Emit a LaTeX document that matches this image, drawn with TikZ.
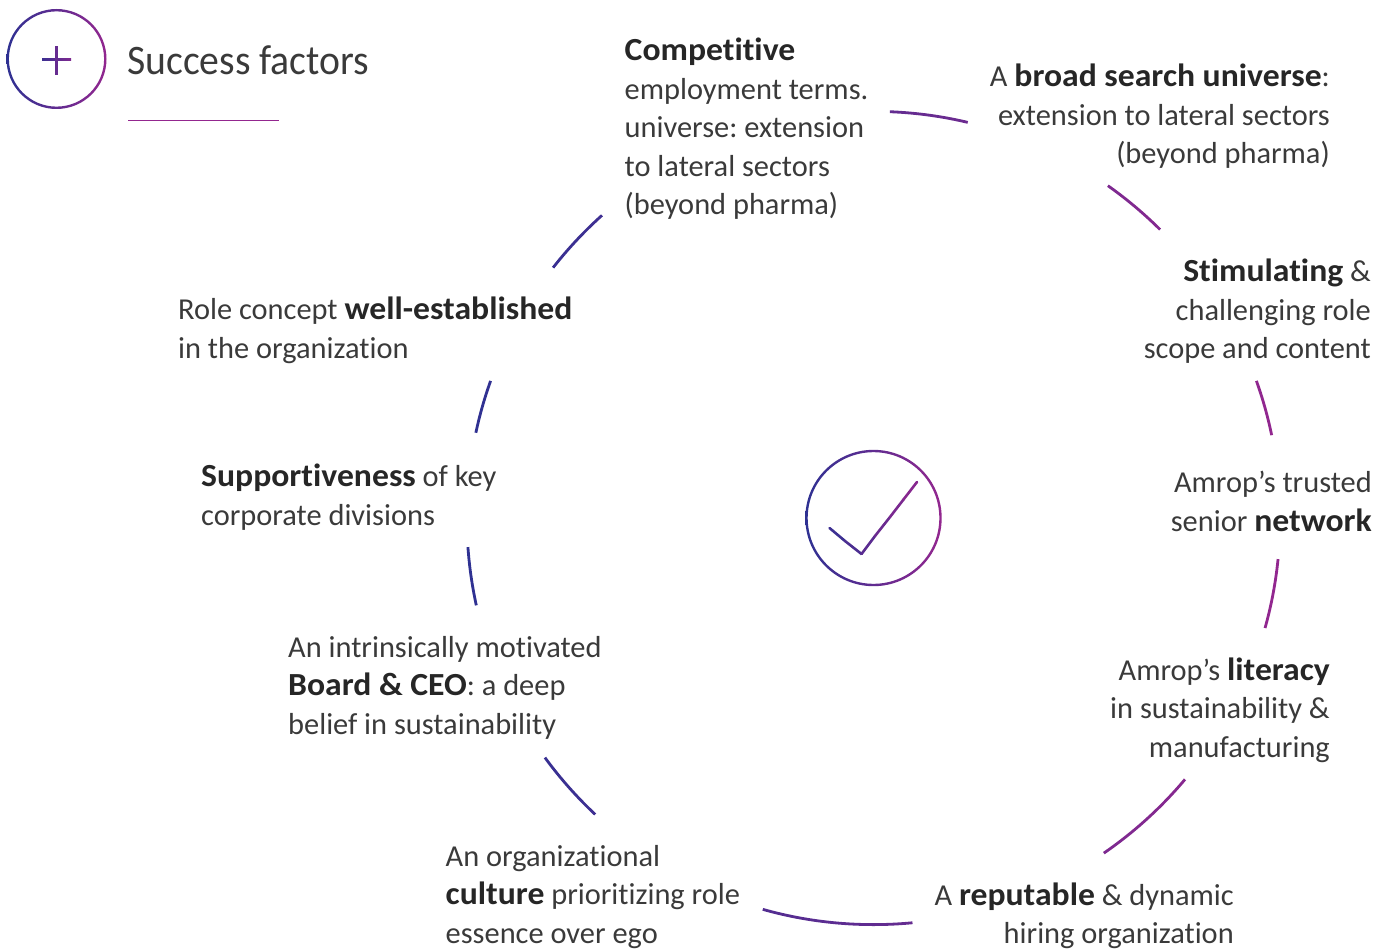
\documentclass[tikz,border=0pt]{standalone}
\usepackage{fontspec}
\setmainfont[Ligatures=NoCommon,BoldFeatures={Scale=1.06,FakeStretch=1.045}]{Carlito}
\newfontfamily\titlefont[Ligatures=NoCommon,FakeStretch=0.945]{Carlito}
\usetikzlibrary{calc}
\definecolor{gA}{HTML}{2E3192}
\definecolor{gB}{HTML}{93278F}
\definecolor{ink}{HTML}{3A3A3A}
\definecolor{inkB}{HTML}{262626}
\newcommand{\lblfont}{\fontsize{30.4}{38.5}\selectfont\frenchspacing}
\newcommand{\bd}[1]{\textcolor{inkB}{\textbf{#1}}}
\tikzset{
 lblL/.style={inner sep=0pt,align=left,anchor=north west,font=\lblfont,text=ink},
 lblR/.style={inner sep=0pt,align=right,anchor=north east,font=\lblfont,text=ink},
 ringpaint/.style={even odd rule,left color=gA,right color=gB},
 strokeA/.style={line width=2.6pt,line cap=round,line join=miter},
}
\begin{document}
\begin{tikzpicture}[x=1pt,y=-1pt]
\useasboundingbox (0,0) rectangle (1394,952);
\coordinate (c) at (873.5,518);
\coordinate (ic) at (56.5,59);
\coordinate (ck) at (873.5,518);
% icon ring
\begin{scope}[even odd rule]
\clip (ic) circle[radius=50] (ic) circle[radius=47.6];
\path[left color=gA,right color=gB] (6,8) rectangle (107,110);
\end{scope}
\path[left color=gA!85!gB,right color=gB!80!gA] (42,58.3) rectangle (71,60.9);
\fill[color=gA!45!gB] (55.1,46) rectangle (57.7,75);
\node[inner sep=0pt,anchor=base west,font=\titlefont\fontsize{42}{42}\selectfont,text=ink] (title) at (127,75) {Success factors};
\fill[gB] (127.5,120) rectangle (278.5,121);
% big arcs (angles negated: the y axis points down)
\begin{scope}
\clip (c) -- ($(c)+(-87.7:500)$) -- ($(c)+(-76.6:500)$) -- cycle
      (c) -- ($(c)+(-54.8:500)$) -- ($(c)+(-45.2:500)$) -- cycle
      (c) -- ($(c)+(-19.7:500)$) -- ($(c)+(-11.75:500)$) -- cycle
      (c) -- ($(c)+(5.8:500)$) -- ($(c)+(15.7:500)$) -- cycle
      (c) -- ($(c)+(40:500)$) -- ($(c)+(55.5:500)$) -- cycle
      (c) -- ($(c)+(84.5:500)$) -- ($(c)+(105.8:500)$) -- cycle
      (c) -- ($(c)+(133.2:500)$) -- ($(c)+(143.9:500)$) -- cycle
      (c) -- ($(c)+(167.6:500)$) -- ($(c)+(175.9:500)$) -- cycle
      (c) -- ($(c)+(-167.9:500)$) -- ($(c)+(-160.3:500)$) -- cycle
      (c) -- ($(c)+(-142:500)$) -- ($(c)+(-131.9:500)$) -- cycle;
\path[ringpaint] (c) circle[radius=408] (c) circle[radius=405.2];
\end{scope}
% check icon
\begin{scope}[even odd rule]
\clip (ck) circle[radius=68.2] (ck) circle[radius=65.8];
\path[left color=gA,right color=gB] (805,449) rectangle (942,587);
\end{scope}
\draw[strokeA,color=gA!85!gB] (829.5,528) -- (845,541);
\draw[strokeA,color=gA!70!gB] (845,541) -- (861.5,554);
\draw[strokeA,color=gA!55!gB] (861.5,554) -- (875,536);
\draw[strokeA,color=gA!40!gB] (875,536) -- (890,517);
\draw[strokeA,color=gA!25!gB] (890,517) -- (903.5,499.5);
\draw[strokeA,color=gA!12!gB] (903.5,499.5) -- (917,482);
% labels
\node[lblL] (n1) at (624.5,38) {\bd{Competitive}\\employment terms.\\universe: extension\\to lateral sectors\\(beyond pharma)};
\node[lblR] (n2) at (1330,64) {A \bd{broad search universe}:\\extension to lateral sectors\\(beyond pharma)};
\node[lblR] (n3) at (1371,259) {\bd{Stimulating} \&\\challenging role\\scope and content};
\node[lblR] (n4) at (1372,471) {Amrop’s trusted\\senior \bd{network}};
\node[lblR] (n5) at (1330,657.5) {Amrop’s \bd{literacy}\\in sustainability \&\\manufacturing};
\node[lblR] (n6) at (1234,882.5) {A \bd{reputable} \& dynamic\\hiring organization};
\node[lblL] (n7) at (445.5,845) {An organizational\\\bd{culture} prioritizing role\\essence over ego};
\node[lblL] (n8) at (288,636) {An intrinsically motivated\\\bd{Board \& CEO}: a deep\\belief in sustainability};
\node[lblL] (n9) at (201,464) {\bd{Supportiveness} of key\\corporate divisions};
\node[lblL] (n10) at (178,297) {Role concept \bd{well-established}\\in the organization};
\end{tikzpicture}
\end{document}
